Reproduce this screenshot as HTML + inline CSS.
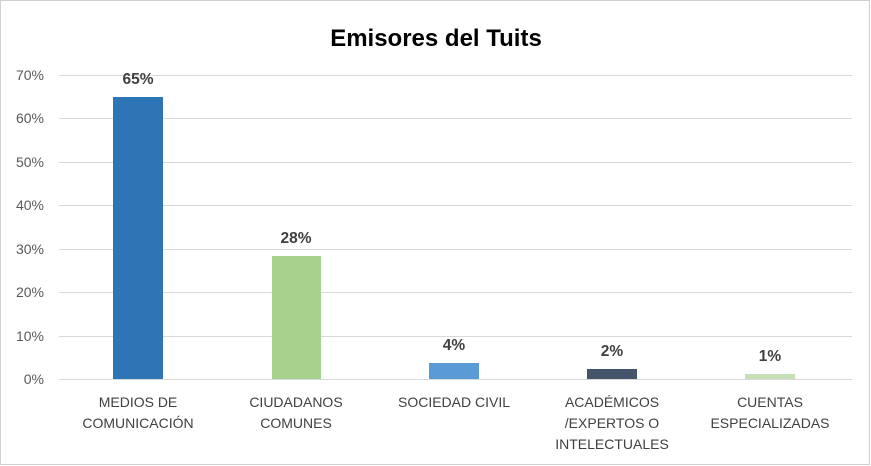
<!DOCTYPE html>
<html><head><meta charset="utf-8"><style>
body{margin:0;background:#fff;}
svg{display:block;font-family:"Liberation Sans",sans-serif;}
</style></head><body>
<svg width="871" height="466" viewBox="0 0 871 466">
<rect x="0.5" y="0.5" width="869" height="464" fill="#fff" stroke="#d0d0d0"/>
<text x="436" y="46" text-anchor="middle" font-size="24" font-weight="bold" fill="#000">Emisores del Tuits</text>
<g stroke="#d9d9d9" stroke-width="1">
<line x1="59" y1="75.5" x2="852" y2="75.5"/>
<line x1="59" y1="118.5" x2="852" y2="118.5"/>
<line x1="59" y1="162.5" x2="852" y2="162.5"/>
<line x1="59" y1="205.5" x2="852" y2="205.5"/>
<line x1="59" y1="249.5" x2="852" y2="249.5"/>
<line x1="59" y1="292.5" x2="852" y2="292.5"/>
<line x1="59" y1="336.5" x2="852" y2="336.5"/>
<line x1="59" y1="379.5" x2="852" y2="379.5"/>
</g>
<g font-size="14" fill="#595959" text-anchor="end">
<text x="44" y="80">70%</text><text x="44" y="123">60%</text><text x="44" y="167">50%</text>
<text x="44" y="210">40%</text><text x="44" y="254">30%</text><text x="44" y="297">20%</text>
<text x="44" y="341">10%</text><text x="44" y="384">0%</text>
</g>
<rect x="113" y="97" width="50" height="282" fill="#2E75B6"/>
<rect x="272" y="256" width="49" height="123" fill="#A9D18E"/>
<rect x="429" y="363" width="50" height="16" fill="#5B9BD5"/>
<rect x="587" y="369" width="50" height="10" fill="#44546A"/>
<rect x="745" y="374" width="50" height="5" fill="#C5E0B4"/>
<g font-size="15.5" font-weight="bold" fill="#404040" text-anchor="middle">
<text x="138" y="84">65%</text><text x="296" y="243">28%</text><text x="454" y="350">4%</text>
<text x="612" y="356">2%</text><text x="770" y="361">1%</text>
</g>
<g font-size="14" fill="#404040" text-anchor="middle">
<text x="138" y="407">MEDIOS DE</text><text x="138" y="428">COMUNICACIÓN</text>
<text x="296" y="407">CIUDADANOS</text><text x="296" y="428">COMUNES</text>
<text x="454" y="407">SOCIEDAD CIVIL</text>
<text x="612" y="407">ACADÉMICOS</text><text x="612" y="428">/EXPERTOS O</text><text x="612" y="449">INTELECTUALES</text>
<text x="770" y="407">CUENTAS</text><text x="770" y="428">ESPECIALIZADAS</text>
</g>
</svg>
</body></html>
